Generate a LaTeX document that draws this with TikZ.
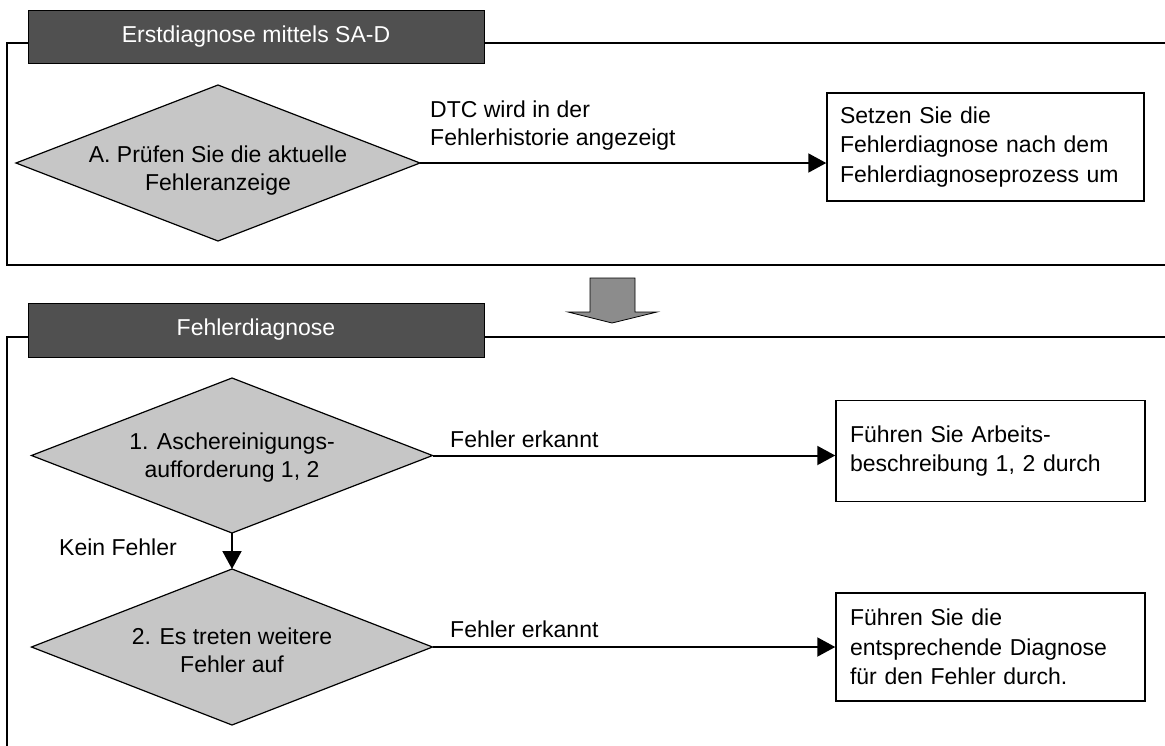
\documentclass[tikz,border=0pt]{standalone}
\usepackage{fontspec}
\setmainfont{Liberation Sans}
\usetikzlibrary{shapes.geometric,arrows.meta}

\definecolor{headfill}{HTML}{505050}
\definecolor{decfill}{HTML}{C6C6C6}
\definecolor{stepfill}{HTML}{8C8C8C}

\tikzset{
  stdfont/.style={font=\fontsize{23}{28}\selectfont},
  boxfont/.style={font=\fontsize{23}{29.5}\selectfont},
  frameline/.style={draw=black, line width=1.5pt},
  header/.style={draw=black, line width=0.8pt, fill=headfill, text=white,
    stdfont, minimum width=456pt, inner sep=0pt},
  decision/.style={shape=diamond, draw=black, line width=1.2pt, fill=decfill,
    inner sep=0pt, outer sep=0pt},
  dtext/.style={stdfont, align=center, inner sep=0pt},
  result/.style={draw=black, line width=1.5pt, fill=white, boxfont,
    align=left, inner ysep=0pt},
  plain/.style={inner sep=0pt},
  conn/.style={draw=black, line width=2pt, -{Triangle[length=18pt,width=19pt]}}
}

\begin{document}
\begin{tikzpicture}[x=1pt,y=-1pt]
\clip (0,0) rectangle (1165,745);
\fill[white] (0,0) rectangle (1165,745);

% section frames (open to the right)
\draw[frameline] (1170,43) -- (7,43) -- (7,265) -- (1170,265);
\draw[frameline] (1170,337) -- (7,337) -- (7,760);

% section headers
\node[header, minimum height=53pt] (h1) at (256,36.5) {Erstdiagnose mittels SA-D};
\node[header, minimum height=54pt] (h2) at (256,330) {Fehlerdiagnose};

% transition arrow between the sections
\filldraw[fill=stepfill, draw=black, line width=0.8pt]
  (590,278) -- (635,278) -- (635,312) -- (657,312) -- (612,323)
  -- (568,312) -- (590,312) -- cycle;

% initial check
\node[decision, minimum width=404pt, minimum height=156pt,
  label={[dtext, yshift=-8pt]center:A. Prüfen Sie die aktuelle\\Fehleranzeige}]
  (dA) at (218,163) {};
\node[result, text width=291pt, inner xsep=13pt, minimum height=108pt]
  (rA) at (985.5,147)
  {Setzen Sie die\\Fehlerdiagnose nach dem\\Fehlerdiagnoseprozess um};
\draw[conn] (dA.east) -- (dA.east -| rA.west);
\node[stdfont, plain, align=left, anchor=base west] (lA) at (430,145)
  {DTC wird in der\\Fehlerhistorie angezeigt};

% fault diagnosis
\node[decision, minimum width=401pt, minimum height=155pt,
  label={[dtext, yshift=-2.5pt]center:1. Aschereinigungs-\\aufforderung 1, 2}]
  (d1) at (232,455.5) {};
\node[decision, minimum width=401pt, minimum height=156pt,
  label={[dtext, yshift=-3pt]center:2. Es treten weitere\\Fehler auf}]
  (d2) at (232,647) {};

\node[result, text width=281pt, inner xsep=14pt, minimum height=101pt]
  (r1) at (990.5,451) {Führen Sie Arbeits-\\beschreibung 1, 2 durch};
\node[result, text width=281pt, inner xsep=14pt, minimum height=108pt]
  (r2) at (990.5,647) {Führen Sie die\\entsprechende Diagnose\\für den Fehler durch.};

\draw[conn] (d1.east) -- (d1.east -| r1.west);
\draw[conn] (d2.east) -- (d2.east -| r2.west);
\draw[conn] (d1.south) -- (d2.north);

\node[stdfont, plain, anchor=base west] (l1) at (450,447) {Fehler erkannt};
\node[stdfont, plain, anchor=base west] (l2) at (450,637) {Fehler erkannt};
\node[stdfont, plain, anchor=base west] (l3) at (59,555) {Kein Fehler};
\end{tikzpicture}
\end{document}
